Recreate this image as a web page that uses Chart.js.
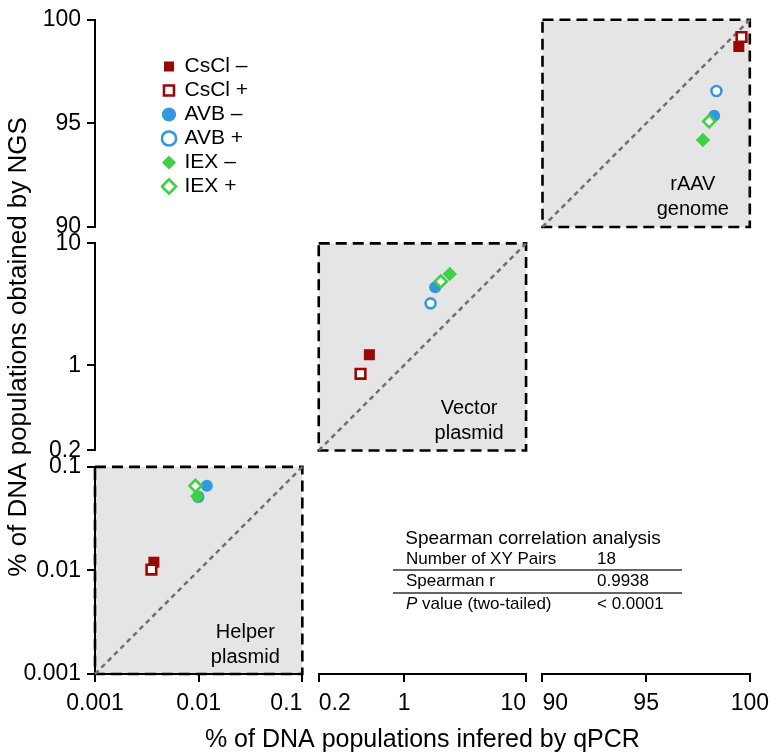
<!DOCTYPE html>
<html>
<head>
<meta charset="utf-8">
<script src="https://cdn.jsdelivr.net/npm/chart.js@4.4.1/dist/chart.umd.min.js"></script>
<style>
html,body{margin:0;padding:0;background:#ffffff;}
#wrap{position:relative;width:777px;height:756px;}
canvas{display:block;}
</style>
</head>
<body>
<div id="wrap"><canvas id="chart" width="777" height="756"></canvas></div>
<script>
// ---------------- data ----------------
const seriesLabels = ['CsCl \u2013', 'CsCl +', 'AVB \u2013', 'AVB +', 'IEX \u2013', 'IEX +'];
const regionNames = ['Helper plasmid', 'Vector plasmid', 'rAAV genome'];

// x = % inferred by qPCR, y = % obtained by NGS (series order as seriesLabels)
const helperQpcr = [0.0037, 0.0035, 0.0120, 0.0099, 0.0097, 0.0093];
const helperNgs  = [0.0120, 0.0102, 0.0656, 0.0514, 0.0520, 0.0656];
const vectorQpcr = [0.52, 0.44, 1.80, 1.65, 2.37, 2.00];
const vectorNgs  = [1.22, 0.85, 4.36, 3.22, 5.60, 4.86];
const genomeQpcr = [99.47, 99.60, 98.28, 98.39, 97.74, 98.04];
const genomeNgs  = [98.71, 99.17, 95.37, 96.56, 94.20, 95.10];

const regionMin = [0.001, 0.2, 90];
const regionMax = [0.1, 10, 100];
const helperTicks = [0.001, 0.01, 0.1];
const vectorTicks = [0.2, 1, 10];
const genomeTicks = [90, 95, 100];
const helperTickLabels = ['0.001', '0.01', '0.1'];
const vectorTickLabels = ['0.2', '1', '10'];
const genomeTickLabels = ['90', '95', '100'];

const xAxisTitle = '% of DNA populations infered by qPCR';
const yAxisTitle = '% of DNA populations obtained by NGS';
const tableTitle = 'Spearman correlation analysis';
const statRows = ['Number of XY Pairs', 'Spearman r', 'P value (two-tailed)'];
const statValues = ['18', '0.9938', '< 0.0001'];

// ---------------- styles ----------------
const FONT = "'Liberation Sans', Arial, Helvetica, sans-serif";
Chart.defaults.font.family = FONT;
Chart.defaults.color = '#000';

const RED = '#9a0707', BLUE = '#3597dd', GREEN = '#3fd145';
const seriesStyle = [
  {color: RED,   shape: 'rect',    filled: true,  r: 7.8},
  {color: RED,   shape: 'rect',    filled: false, r: 6.8},
  {color: BLUE,  shape: 'circle',  filled: true,  r: 6},
  {color: BLUE,  shape: 'circle',  filled: false, r: 5},
  {color: GREEN, shape: 'rectRot', filled: true,  r: 7.2},
  {color: GREEN, shape: 'rectRot', filled: false, r: 6}
];
// horizontal alignment of x tick labels at the axis breaks
const xLabelAlign = [['center', 'center', 'right'], ['left', 'center', 'right'], ['left', 'center', 'center']];

const regions = [
  {xs: helperQpcr, ys: helperNgs, ticks: helperTicks, labels: helperTickLabels, type: 'logarithmic'},
  {xs: vectorQpcr, ys: vectorNgs, ticks: vectorTicks, labels: vectorTickLabels, type: 'logarithmic'},
  {xs: genomeQpcr, ys: genomeNgs, ticks: genomeTicks, labels: genomeTickLabels, type: 'linear'}
];

const SEG = 208.5, GAP = 16.5;

// ---------------- datasets ----------------
const datasets = [];
regions.forEach((reg, r) => {
  seriesLabels.forEach((lab, s) => {
    const st = seriesStyle[s];
    datasets.push({
      label: lab,
      data: [{x: reg.xs[s], y: reg.ys[s]}],
      xAxisID: 'x' + (r + 1),
      yAxisID: 'y' + (r + 1),
      pointStyle: st.shape,
      pointRadius: st.r,
      pointHoverRadius: st.r,
      backgroundColor: st.filled ? st.color : '#ffffff',
      borderColor: st.color,
      borderWidth: st.filled ? 0 : 2.6,
      order: 20 - s,
      clip: false
    });
  });
});
regions.forEach((reg, r) => {
  datasets.push({
    label: 'identity',
    data: [{x: regionMin[r], y: regionMin[r]}, {x: regionMax[r], y: regionMax[r]}],
    xAxisID: 'x' + (r + 1),
    yAxisID: 'y' + (r + 1),
    showLine: true,
    borderColor: '#707070',
    borderWidth: 2.5,
    borderDash: [5, 4],
    pointRadius: 0,
    order: 100,
    clip: false
  });
});

// ---------------- scales ----------------
function axisOpts(r, axis) {
  const reg = regions[r];
  const o = {
    type: reg.type,
    axis: axis,
    position: axis === 'x' ? 'bottom' : 'left',
    min: regionMin[r],
    max: regionMax[r],
    stack: axis + 'stack',
    stackWeight: SEG,
    afterBuildTicks: (s) => { s.ticks = reg.ticks.map(v => ({value: v})); },
    afterFit: (s) => { if (axis === 'x') { s.height = 52; } else { s.width = 95; } },
    ticks: {
      autoSkip: false, maxRotation: 0, minRotation: 0,
      padding: axis === 'x' ? 8 : 6,
      font: {size: 23},
      color: '#000',
      callback: (v, i) => reg.labels[i]
    },
    grid: {display: true, drawOnChartArea: false, drawTicks: true, tickLength: 8, color: '#000', lineWidth: 2},
    border: {display: true, color: '#000', width: 2}
  };
  if (r === 1 && axis === 'y') {
    o.title = {display: true, text: yAxisTitle, font: {size: 26}, color: '#000', padding: {top: 3, bottom: 0}};
  }
  return o;
}
function spacer(axis) {
  return {type: 'linear', axis: axis, position: axis === 'x' ? 'bottom' : 'left', display: false,
          min: 0, max: 1, stack: axis + 'stack', stackWeight: GAP};
}
const scales = {
  x1: axisOpts(0, 'x'), xg1: spacer('x'), x2: axisOpts(1, 'x'), xg2: spacer('x'), x3: axisOpts(2, 'x'),
  xt: {
    type: 'linear', axis: 'x', position: 'bottom', min: 0, max: 1, display: true,
    ticks: {display: false}, grid: {display: false, drawTicks: false}, border: {display: false},
    title: {display: true, text: xAxisTitle, font: {size: 25}, color: '#000', padding: {top: 0, bottom: 1}},
    afterFit: (s) => { s.height = 30; }
  },
  y1: axisOpts(0, 'y'), yg1: spacer('y'), y2: axisOpts(1, 'y'), yg2: spacer('y'), y3: axisOpts(2, 'y')
};

// ---------------- plugins ----------------
function regionRect(chart, r) {
  const xs = chart.scales['x' + (r + 1)], ys = chart.scales['y' + (r + 1)];
  const l = xs.getPixelForValue(regionMin[r]), rt = xs.getPixelForValue(regionMax[r]);
  const t = ys.getPixelForValue(regionMax[r]), b = ys.getPixelForValue(regionMin[r]);
  return {l, rt, t, b};
}
const decorPlugin = {
  id: 'decor',
  afterLayout(chart) {
    const lg = chart.legend;
    if (lg) { lg.left += 66; lg.right += 66; lg.top += 53; lg.bottom += 53; }
  },
  beforeDraw(chart) {
    const ctx = chart.ctx;
    // tick label alignment at axis breaks
    for (let r = 0; r < 3; r++) {
      const sc = chart.scales['x' + (r + 1)];
      const items = sc.getLabelItems(chart.chartArea);
      items.forEach((it, i) => { if (it.options) it.options.textAlign = xLabelAlign[r][i]; });
    }
    for (let r = 0; r < 3; r++) {
      const {l, rt, t, b} = regionRect(chart, r);
      ctx.save();
      ctx.fillStyle = '#e5e5e5';
      ctx.fillRect(l, t, rt - l, b - t);
      ctx.setLineDash([11, 6]);
      ctx.lineWidth = 2.6;
      ctx.strokeStyle = '#000';
      ctx.strokeRect(l, t, rt - l, b - t);
      ctx.restore();
    }
  },
  beforeDatasetsDraw(chart) {
    const ctx = chart.ctx;
    ctx.save();
    ctx.fillStyle = '#000';
    ctx.font = '20px ' + FONT;
    ctx.textAlign = 'center';
    ctx.textBaseline = 'middle';
    for (let r = 0; r < 3; r++) {
      const {rt, b} = regionRect(chart, r);
      const words = regionNames[r].split(' ');
      ctx.fillText(words[0], rt - 57, b - 42);
      ctx.fillText(words[1], rt - 57, b - 17);
    }
    ctx.restore();
  },
  afterDraw(chart) {
    const ctx = chart.ctx;
    ctx.save();
    ctx.fillStyle = '#000';
    ctx.textBaseline = 'middle';
    ctx.textAlign = 'center';
    ctx.font = '19px ' + FONT;
    ctx.fillText(tableTitle, 533, 539);
    ctx.textAlign = 'left';
    const rowY = [559, 581, 604];
    statRows.forEach((lab, i) => {
      if (lab.startsWith('P ')) {
        ctx.font = 'italic 17px ' + FONT;
        ctx.fillText('P', 406, rowY[i]);
        const w = ctx.measureText('P').width;
        ctx.font = '17px ' + FONT;
        ctx.fillText(lab.slice(1), 406 + w, rowY[i]);
      } else {
        ctx.font = '17px ' + FONT;
        ctx.fillText(lab, 406, rowY[i]);
      }
      ctx.font = '17px ' + FONT;
      ctx.fillText(statValues[i], 597, rowY[i]);
    });
    ctx.strokeStyle = '#333';
    ctx.lineWidth = 1.5;
    [570, 593].forEach(y => { ctx.beginPath(); ctx.moveTo(393, y); ctx.lineTo(682, y); ctx.stroke(); });
    ctx.restore();
  }
};

new Chart(document.getElementById('chart'), {
  type: 'scatter',
  data: {datasets: datasets},
  options: {
    responsive: false,
    animation: false,
    devicePixelRatio: 1,
    layout: {padding: {left: 0, top: 15, right: 22, bottom: 0}},
    scales: scales,
    plugins: {
      tooltip: {enabled: false},
      legend: {
        display: true,
        position: 'chartArea',
        align: 'start',
        labels: {
          usePointStyle: true,
          boxWidth: 10,
          boxHeight: 10,
          padding: 3,
          color: '#000',
          font: {size: 21},
          filter: (item) => item.datasetIndex < seriesLabels.length,
          sort: (a, b) => a.datasetIndex - b.datasetIndex
        }
      }
    }
  },
  plugins: [decorPlugin]
});
</script>
</body>
</html>
